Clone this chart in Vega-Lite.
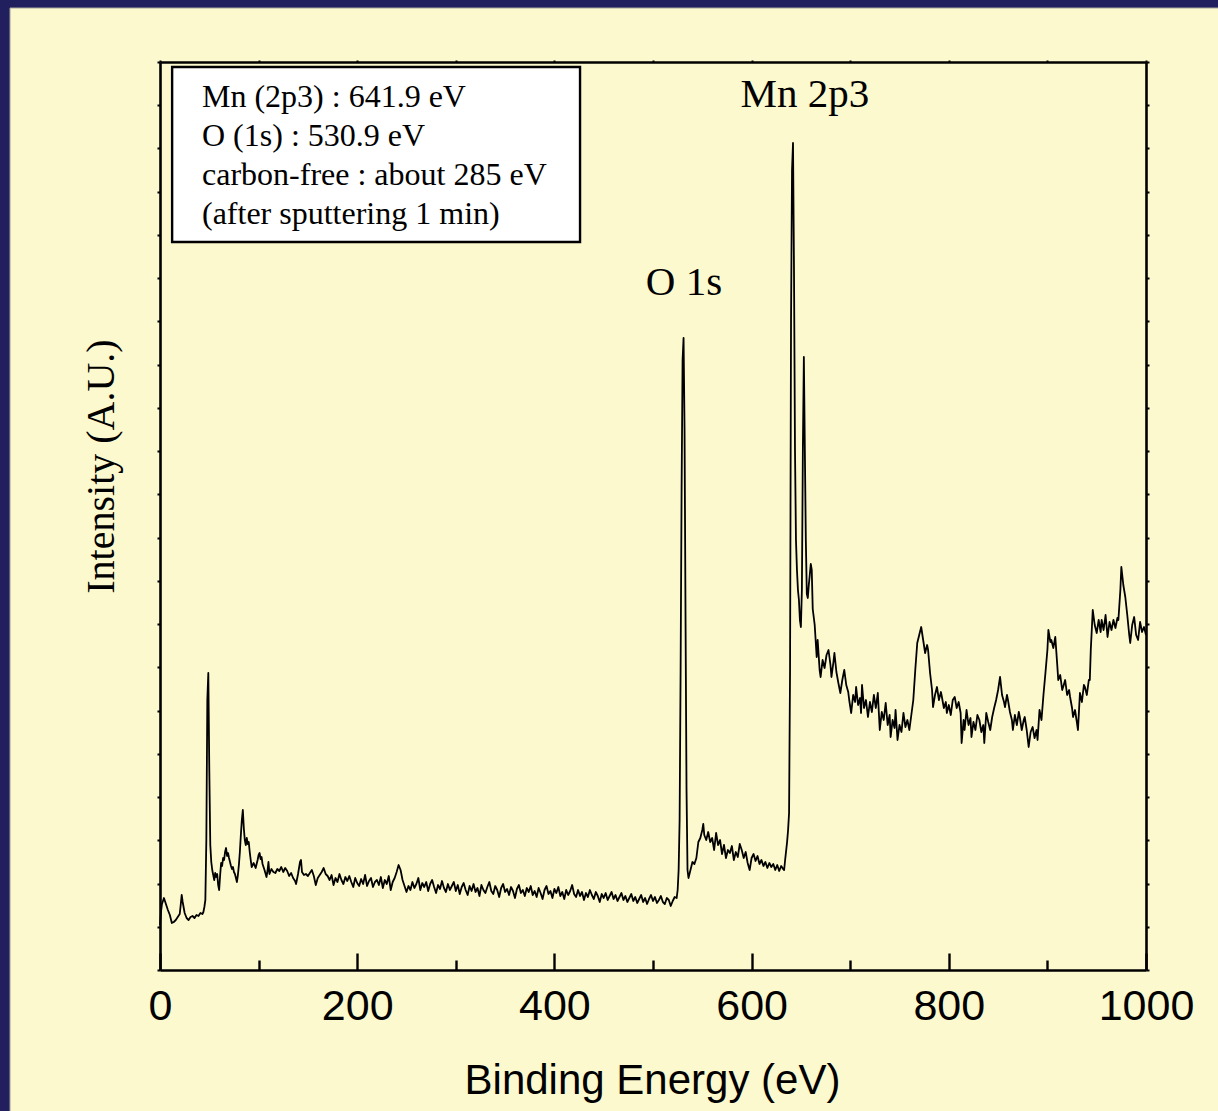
{
  "$schema": "https://vega.github.io/schema/vega-lite/v6.json",
  "width": 986,
  "height": 908,
  "autosize": {"type": "none"},
  "padding": {"left": 160, "top": 62, "right": 72, "bottom": 141},
  "background": "#221f5f",
  "config": {
    "view": {"stroke": null},
    "axis": {"zindex": 1, "grid": false, "domainColor": "#000000", "domainWidth": 2.6, "tickColor": "#000000", "tickWidth": 2.4, "labelColor": "#000000", "titleColor": "#000000"}
  },
  "resolve": {"axis": {"x": "independent", "y": "independent"}},
  "layer": [
    {
      "data": {"values": [{}]},
      "mark": {"type": "rect", "fill": "#fcf9ce", "stroke": "#a8a79c", "strokeWidth": 1},
      "encoding": {
        "x": {"datum": -152.1, "type": "quantitative", "axis": null},
        "x2": {"datum": 1090},
        "y": {"datum": 962, "type": "quantitative", "axis": null},
        "y2": {"datum": -160}
      }
    },
    {
      "data": {"values": [{}]},
      "mark": {"type": "rect", "fill": "#ffffff", "stroke": "#000000", "strokeWidth": 2.4},
      "encoding": {
        "x": {"datum": 12.3, "type": "quantitative", "axis": null},
        "x2": {"datum": 426},
        "y": {"datum": 903, "type": "quantitative", "axis": null},
        "y2": {"datum": 728}
      }
    },
    {
      "data": {"values": [
{"eV":0,"counts":45},{"eV":1,"counts":58},{"eV":2,"counts":66},{"eV":4,"counts":72},{"eV":6,"counts":66},{"eV":8,"counts":60},{"eV":10,"counts":55},{"eV":12,"counts":47},{"eV":14,"counts":48},{"eV":16,"counts":50},{"eV":18,"counts":53},{"eV":20,"counts":56},{"eV":21,"counts":65},{"eV":22,"counts":75},{"eV":23,"counts":68},{"eV":25,"counts":57},{"eV":27,"counts":52},{"eV":29,"counts":50},{"eV":31,"counts":53},{"eV":33,"counts":54},{"eV":35,"counts":52},{"eV":37,"counts":55},{"eV":39,"counts":54},{"eV":41,"counts":57},{"eV":43,"counts":56},{"eV":44,"counts":58},{"eV":45,"counts":63},{"eV":46,"counts":70},{"eV":47,"counts":130},{"eV":48,"counts":270},{"eV":49,"counts":297},{"eV":50,"counts":200},{"eV":51,"counts":125},{"eV":52,"counts":108},{"eV":53,"counts":100},{"eV":54,"counts":95},{"eV":55,"counts":90},{"eV":56,"counts":97},{"eV":57,"counts":93},{"eV":58,"counts":96},{"eV":59,"counts":85},{"eV":60,"counts":80},{"eV":61,"counts":95},{"eV":62,"counts":107},{"eV":63,"counts":104},{"eV":64,"counts":112},{"eV":65,"counts":110},{"eV":66,"counts":118},{"eV":67,"counts":122},{"eV":68,"counts":114},{"eV":69,"counts":117},{"eV":70,"counts":112},{"eV":71,"counts":108},{"eV":72,"counts":104},{"eV":73,"counts":101},{"eV":74,"counts":103},{"eV":75,"counts":98},{"eV":76,"counts":96},{"eV":77,"counts":92},{"eV":78,"counts":88},{"eV":79,"counts":95},{"eV":80,"counts":105},{"eV":81,"counts":118},{"eV":82,"counts":135},{"eV":83,"counts":150},{"eV":84,"counts":160},{"eV":85,"counts":142},{"eV":86,"counts":130},{"eV":87,"counts":125},{"eV":88,"counts":132},{"eV":89,"counts":126},{"eV":90,"counts":128},{"eV":91,"counts":118},{"eV":92,"counts":110},{"eV":93,"counts":103},{"eV":95,"counts":107},{"eV":97,"counts":102},{"eV":99,"counts":110},{"eV":100,"counts":115},{"eV":101,"counts":117},{"eV":102,"counts":111},{"eV":103,"counts":113},{"eV":104,"counts":106},{"eV":106,"counts":100},{"eV":108,"counts":93},{"eV":109,"counts":99},{"eV":110,"counts":108},{"eV":111,"counts":96},{"eV":113,"counts":101},{"eV":115,"counts":98},{"eV":117,"counts":97},{"eV":119,"counts":101},{"eV":121,"counts":99},{"eV":123,"counts":103},{"eV":125,"counts":98},{"eV":127,"counts":102},{"eV":129,"counts":99},{"eV":131,"counts":94},{"eV":133,"counts":97},{"eV":135,"counts":92},{"eV":137,"counts":89},{"eV":138,"counts":86},{"eV":140,"counts":96},{"eV":142,"counts":108},{"eV":143,"counts":110},{"eV":144,"counts":98},{"eV":146,"counts":95},{"eV":148,"counts":96},{"eV":150,"counts":94},{"eV":152,"counts":97},{"eV":154,"counts":100},{"eV":156,"counts":94},{"eV":158,"counts":85},{"eV":160,"counts":92},{"eV":162,"counts":95},{"eV":164,"counts":98},{"eV":166,"counts":102},{"eV":168,"counts":96},{"eV":170,"counts":94},{"eV":172,"counts":90},{"eV":174,"counts":95},{"eV":176,"counts":85},{"eV":178,"counts":92},{"eV":180,"counts":88},{"eV":182,"counts":96},{"eV":184,"counts":90},{"eV":186,"counts":86},{"eV":188,"counts":93},{"eV":190,"counts":89},{"eV":192,"counts":94},{"eV":194,"counts":88},{"eV":196,"counts":83},{"eV":198,"counts":92},{"eV":200,"counts":87},{"eV":202,"counts":84},{"eV":204,"counts":91},{"eV":206,"counts":86},{"eV":208,"counts":95},{"eV":210,"counts":84},{"eV":212,"counts":89},{"eV":214,"counts":92},{"eV":216,"counts":83},{"eV":218,"counts":88},{"eV":220,"counts":90},{"eV":222,"counts":85},{"eV":224,"counts":93},{"eV":226,"counts":82},{"eV":228,"counts":90},{"eV":230,"counts":86},{"eV":232,"counts":94},{"eV":234,"counts":80},{"eV":236,"counts":88},{"eV":238,"counts":92},{"eV":240,"counts":98},{"eV":242,"counts":105},{"eV":244,"counts":100},{"eV":246,"counts":90},{"eV":248,"counts":84},{"eV":250,"counts":78},{"eV":252,"counts":84},{"eV":254,"counts":80},{"eV":256,"counts":88},{"eV":258,"counts":82},{"eV":260,"counts":86},{"eV":262,"counts":92},{"eV":264,"counts":80},{"eV":266,"counts":87},{"eV":268,"counts":83},{"eV":270,"counts":88},{"eV":272,"counts":79},{"eV":274,"counts":86},{"eV":276,"counts":90},{"eV":278,"counts":83},{"eV":280,"counts":77},{"eV":282,"counts":85},{"eV":284,"counts":81},{"eV":286,"counts":89},{"eV":288,"counts":82},{"eV":290,"counts":78},{"eV":292,"counts":86},{"eV":294,"counts":80},{"eV":296,"counts":84},{"eV":298,"counts":88},{"eV":300,"counts":79},
{"eV":302,"counts":85},{"eV":304,"counts":76},{"eV":306,"counts":83},{"eV":308,"counts":87},{"eV":310,"counts":80},{"eV":312,"counts":75},{"eV":314,"counts":84},{"eV":316,"counts":79},{"eV":318,"counts":86},{"eV":320,"counts":78},{"eV":322,"counts":82},{"eV":324,"counts":74},{"eV":326,"counts":85},{"eV":328,"counts":80},{"eV":330,"counts":77},{"eV":332,"counts":83},{"eV":334,"counts":88},{"eV":336,"counts":79},{"eV":338,"counts":76},{"eV":340,"counts":84},{"eV":342,"counts":80},{"eV":344,"counts":73},{"eV":346,"counts":82},{"eV":348,"counts":86},{"eV":350,"counts":78},{"eV":352,"counts":81},{"eV":354,"counts":75},{"eV":356,"counts":83},{"eV":358,"counts":79},{"eV":360,"counts":72},{"eV":362,"counts":81},{"eV":364,"counts":85},{"eV":366,"counts":77},{"eV":368,"counts":80},{"eV":370,"counts":74},{"eV":372,"counts":82},{"eV":374,"counts":78},{"eV":376,"counts":84},{"eV":378,"counts":75},{"eV":380,"counts":79},{"eV":382,"counts":73},{"eV":384,"counts":82},{"eV":386,"counts":77},{"eV":388,"counts":71},{"eV":390,"counts":80},{"eV":392,"counts":84},{"eV":394,"counts":76},{"eV":396,"counts":79},{"eV":398,"counts":72},{"eV":400,"counts":81},{"eV":402,"counts":77},{"eV":404,"counts":83},{"eV":406,"counts":74},{"eV":408,"counts":78},{"eV":410,"counts":71},{"eV":412,"counts":80},{"eV":414,"counts":75},{"eV":416,"counts":79},{"eV":418,"counts":85},{"eV":420,"counts":76},{"eV":422,"counts":73},{"eV":424,"counts":80},{"eV":426,"counts":74},{"eV":428,"counts":78},{"eV":430,"counts":70},{"eV":432,"counts":77},{"eV":434,"counts":73},{"eV":436,"counts":80},{"eV":438,"counts":75},{"eV":440,"counts":71},{"eV":442,"counts":78},{"eV":444,"counts":74},{"eV":446,"counts":68},{"eV":448,"counts":76},{"eV":450,"counts":72},{"eV":452,"counts":77},{"eV":454,"counts":70},{"eV":456,"counts":74},{"eV":458,"counts":78},{"eV":460,"counts":71},{"eV":462,"counts":75},{"eV":464,"counts":69},{"eV":466,"counts":73},{"eV":468,"counts":77},{"eV":470,"counts":70},{"eV":472,"counts":74},{"eV":474,"counts":68},{"eV":476,"counts":72},{"eV":478,"counts":76},{"eV":480,"counts":69},{"eV":482,"counts":73},{"eV":484,"counts":67},{"eV":486,"counts":71},{"eV":488,"counts":75},{"eV":490,"counts":68},{"eV":492,"counts":72},{"eV":494,"counts":66},{"eV":496,"counts":71},{"eV":498,"counts":75},{"eV":500,"counts":69},{"eV":502,"counts":73},{"eV":504,"counts":67},{"eV":506,"counts":70},{"eV":508,"counts":74},{"eV":510,"counts":68},{"eV":512,"counts":66},{"eV":514,"counts":72},{"eV":516,"counts":70},{"eV":518,"counts":64},{"eV":520,"counts":69},{"eV":522,"counts":73},{"eV":524,"counts":72},{"eV":525,"counts":80},{"eV":526,"counts":100},{"eV":527,"counts":150},{"eV":528,"counts":300},{"eV":529,"counts":480},{"eV":530,"counts":610},{"eV":531,"counts":632},{"eV":532,"counts":540},{"eV":533,"counts":350},{"eV":534,"counts":180},{"eV":535,"counts":100},{"eV":536,"counts":92},{"eV":538,"counts":100},{"eV":540,"counts":108},{"eV":542,"counts":106},{"eV":544,"counts":112},{"eV":546,"counts":128},{"eV":548,"counts":132},{"eV":550,"counts":140},{"eV":551,"counts":146},{"eV":552,"counts":135},{"eV":554,"counts":130},{"eV":556,"counts":138},{"eV":558,"counts":128},{"eV":560,"counts":132},{"eV":562,"counts":120},{"eV":564,"counts":137},{"eV":566,"counts":125},{"eV":568,"counts":130},{"eV":570,"counts":116},{"eV":572,"counts":125},{"eV":574,"counts":112},{"eV":576,"counts":120},{"eV":578,"counts":117},{"eV":580,"counts":124},{"eV":582,"counts":110},{"eV":584,"counts":118},{"eV":586,"counts":113},{"eV":588,"counts":126},{"eV":590,"counts":120},{"eV":592,"counts":112},{"eV":594,"counts":118},{"eV":596,"counts":107},{"eV":598,"counts":100},{"eV":600,"counts":112},{"eV":602,"counts":116},{"eV":604,"counts":109},{"eV":606,"counts":114},{"eV":608,"counts":106},{"eV":610,"counts":110},{"eV":612,"counts":104},{"eV":614,"counts":108},{"eV":616,"counts":102},{"eV":618,"counts":107},{"eV":620,"counts":103},{"eV":622,"counts":106},{"eV":624,"counts":100},{"eV":626,"counts":105},{"eV":628,"counts":99},{"eV":630,"counts":104},{"eV":632,"counts":101},{"eV":633,"counts":100},{"eV":634,"counts":110},{"eV":636,"counts":128},{"eV":637,"counts":140},{"eV":638,"counts":157},{"eV":639,"counts":300},{"eV":640,"counts":650},{"eV":641,"counts":800},{"eV":642,"counts":827},{"eV":643,"counts":700},{"eV":644,"counts":520},{"eV":645,"counts":430},{"eV":646,"counts":400},{"eV":647,"counts":380},{"eV":648,"counts":370},{"eV":649,"counts":350},{"eV":650,"counts":343},{"eV":651,"counts":380},{"eV":652,"counts":520},{"eV":653,"counts":613},{"eV":654,"counts":520},{"eV":655,"counts":430},{"eV":656,"counts":376},{"eV":657,"counts":372},{"eV":658,"counts":385},{"eV":659,"counts":395},{"eV":660,"counts":406},{"eV":661,"counts":400},
{"eV":662,"counts":361},{"eV":664,"counts":345},{"eV":666,"counts":313},{"eV":667,"counts":330},{"eV":669,"counts":300},{"eV":670,"counts":293},{"eV":672,"counts":310},{"eV":674,"counts":302},{"eV":676,"counts":315},{"eV":678,"counts":320},{"eV":680,"counts":305},{"eV":681,"counts":293},{"eV":683,"counts":308},{"eV":684,"counts":317},{"eV":686,"counts":298},{"eV":688,"counts":287},{"eV":690,"counts":277},{"eV":692,"counts":290},{"eV":694,"counts":300},{"eV":696,"counts":285},{"eV":698,"counts":278},{"eV":699,"counts":270},{"eV":701,"counts":257},{"eV":703,"counts":275},{"eV":705,"counts":268},{"eV":706,"counts":283},{"eV":708,"counts":265},{"eV":710,"counts":272},{"eV":711,"counts":257},{"eV":712,"counts":285},{"eV":714,"counts":262},{"eV":716,"counts":270},{"eV":718,"counts":253},{"eV":720,"counts":268},{"eV":722,"counts":258},{"eV":724,"counts":275},{"eV":726,"counts":262},{"eV":728,"counts":277},{"eV":730,"counts":240},{"eV":732,"counts":258},{"eV":734,"counts":250},{"eV":736,"counts":267},{"eV":738,"counts":245},{"eV":740,"counts":255},{"eV":741,"counts":233},{"eV":743,"counts":250},{"eV":745,"counts":242},{"eV":746,"counts":260},{"eV":748,"counts":230},{"eV":750,"counts":245},{"eV":752,"counts":238},{"eV":754,"counts":257},{"eV":756,"counts":243},{"eV":758,"counts":250},{"eV":760,"counts":240},{"eV":762,"counts":255},{"eV":764,"counts":270},{"eV":766,"counts":300},{"eV":768,"counts":327},{"eV":770,"counts":335},{"eV":772,"counts":343},{"eV":774,"counts":330},{"eV":776,"counts":317},{"eV":778,"counts":325},{"eV":779,"counts":320},{"eV":781,"counts":297},{"eV":783,"counts":280},{"eV":784,"counts":263},{"eV":786,"counts":275},{"eV":788,"counts":283},{"eV":790,"counts":270},{"eV":792,"counts":278},{"eV":793,"counts":273},{"eV":795,"counts":262},{"eV":797,"counts":268},{"eV":798,"counts":257},{"eV":800,"counts":265},{"eV":802,"counts":255},{"eV":804,"counts":270},{"eV":806,"counts":273},{"eV":808,"counts":262},{"eV":810,"counts":268},{"eV":812,"counts":257},{"eV":813,"counts":227},{"eV":815,"counts":250},{"eV":816,"counts":240},{"eV":818,"counts":260},{"eV":820,"counts":245},{"eV":822,"counts":252},{"eV":823,"counts":233},{"eV":825,"counts":248},{"eV":827,"counts":240},{"eV":829,"counts":255},{"eV":831,"counts":250},{"eV":833,"counts":238},{"eV":835,"counts":245},{"eV":836,"counts":227},{"eV":838,"counts":257},{"eV":840,"counts":248},{"eV":842,"counts":240},{"eV":844,"counts":253},{"eV":846,"counts":262},{"eV":848,"counts":270},{"eV":850,"counts":280},{"eV":852,"counts":293},{"eV":854,"counts":275},{"eV":856,"counts":268},{"eV":857,"counts":263},{"eV":859,"counts":275},{"eV":860,"counts":270},{"eV":862,"counts":258},{"eV":864,"counts":250},{"eV":865,"counts":240},{"eV":867,"counts":255},{"eV":869,"counts":245},{"eV":871,"counts":258},{"eV":872,"counts":253},{"eV":874,"counts":240},{"eV":876,"counts":250},{"eV":877,"counts":253},{"eV":879,"counts":240},{"eV":881,"counts":223},{"eV":883,"counts":238},{"eV":885,"counts":243},{"eV":887,"counts":232},{"eV":889,"counts":240},{"eV":890,"counts":230},{"eV":892,"counts":260},{"eV":894,"counts":250},{"eV":896,"counts":275},{"eV":898,"counts":297},{"eV":900,"counts":320},{"eV":901,"counts":340},{"eV":903,"counts":328},{"eV":904,"counts":330},{"eV":906,"counts":322},{"eV":908,"counts":333},{"eV":910,"counts":305},{"eV":911,"counts":290},{"eV":913,"counts":295},{"eV":915,"counts":280},{"eV":916,"counts":283},{"eV":918,"counts":290},{"eV":920,"counts":275},{"eV":922,"counts":280},{"eV":923,"counts":273},{"eV":925,"counts":262},{"eV":926,"counts":253},{"eV":928,"counts":260},{"eV":930,"counts":247},{"eV":931,"counts":240},{"eV":933,"counts":277},{"eV":935,"counts":268},{"eV":937,"counts":285},{"eV":938,"counts":283},{"eV":940,"counts":275},{"eV":942,"counts":290},{"eV":943,"counts":290},{"eV":944,"counts":320},{"eV":945,"counts":340},{"eV":946,"counts":360},{"eV":948,"counts":345},{"eV":950,"counts":337},{"eV":952,"counts":350},{"eV":954,"counts":338},{"eV":955,"counts":350},{"eV":957,"counts":340},{"eV":959,"counts":355},{"eV":961,"counts":333},{"eV":963,"counts":348},{"eV":965,"counts":340},{"eV":967,"counts":350},{"eV":969,"counts":342},{"eV":971,"counts":352},{"eV":972,"counts":350},{"eV":974,"counts":380},{"eV":975,"counts":403},{"eV":977,"counts":385},{"eV":979,"counts":373},{"eV":981,"counts":355},{"eV":983,"counts":335},{"eV":984,"counts":327},{"eV":986,"counts":345},{"eV":988,"counts":353},{"eV":990,"counts":335},{"eV":992,"counts":330},{"eV":994,"counts":348},{"eV":996,"counts":338},{"eV":998,"counts":343},{"eV":1000,"counts":335}
      ]},
      "mark": {"type": "line", "color": "#000000", "strokeWidth": 1.8, "strokeJoin": "round"},
      "encoding": {
        "x": {
          "field": "eV", "type": "quantitative",
          "scale": {"domain": [0, 1000], "nice": false, "zero": false},
          "axis": {
            "orient": "bottom", "zindex": 1,
            "values": [0, 100, 200, 300, 400, 500, 600, 700, 800, 900, 1000],
            "tickSize": {"condition": {"test": "datum.value % 200 === 0", "value": -17}, "value": -10},
            "labelExpr": "datum.value % 200 === 0 ? '' + datum.value : ''",
            "labelFont": "Liberation Sans", "labelFontSize": 43, "labelBaseline": "alphabetic", "labelPadding": 66, "labelFlush": false, "labelOverlap": false,
            "title": "Binding Energy (eV)", "titleFont": "Liberation Sans", "titleFontSize": 42, "titleFontWeight": "normal",
            "titleX": 492, "titleY": 123, "titleAlign": "center", "titleBaseline": "alphabetic", "titleAnchor": null
          }
        },
        "y": {
          "field": "counts", "type": "quantitative",
          "scale": {"domain": [0, 908], "nice": false, "zero": false},
          "axis": {
            "orient": "left", "zindex": 1,
            "values": [0, 43.24, 86.48, 129.71, 172.95, 216.19, 259.43, 302.67, 345.9, 389.14, 432.38, 475.62, 518.86, 562.1, 605.33, 648.57, 691.81, 735.05, 778.29, 821.52, 864.76, 908],
            "labels": false, "tickSize": 3, "tickWidth": 2,
            "title": "Intensity (A.U.)", "titleFont": "Liberation Serif", "titleFontSize": 40, "titleFontWeight": "normal",
            "titleAngle": -90, "titleX": -47, "titleY": 404, "titleAlign": "center", "titleBaseline": "alphabetic", "titleAnchor": null
          }
        }
      }
    },
    {
      "data": {"values": [{}]},
      "mark": {"type": "text", "font": "Liberation Serif", "fontSize": 41, "align": "center", "baseline": "alphabetic", "color": "#000000"},
      "encoding": {
        "text": {"value": "Mn 2p3"},
        "x": {"datum": 654, "type": "quantitative",
          "axis": {"orient": "top", "zindex": 1, "values": [0, 100, 200, 300, 400, 500, 600, 700, 800, 900, 1000], "labels": false, "tickSize": 2, "tickWidth": 2, "title": null}},
        "y": {"datum": 863, "type": "quantitative",
          "axis": {"orient": "right", "zindex": 1, "values": [0, 43.24, 86.48, 129.71, 172.95, 216.19, 259.43, 302.67, 345.9, 389.14, 432.38, 475.62, 518.86, 562.1, 605.33, 648.57, 691.81, 735.05, 778.29, 821.52, 864.76, 908], "labels": false, "tickSize": 3, "tickWidth": 2, "title": null}}
      }
    },
    {
      "data": {"values": [{}]},
      "mark": {"type": "text", "font": "Liberation Serif", "fontSize": 41, "align": "center", "baseline": "alphabetic", "color": "#000000"},
      "encoding": {
        "text": {"value": "O 1s"},
        "x": {"datum": 531.4, "type": "quantitative", "axis": null},
        "y": {"datum": 675, "type": "quantitative", "axis": null}
      }
    },
    {
      "data": {"values": [{}]},
      "mark": {"type": "text", "font": "Liberation Serif", "fontSize": 32, "align": "left", "baseline": "alphabetic", "lineHeight": 39, "color": "#000000"},
      "encoding": {
        "text": {"value": ["Mn (2p3) : 641.9 eV", "O (1s) : 530.9 eV", "carbon-free : about 285 eV", "(after sputtering 1 min)"]},
        "x": {"datum": 42.6, "type": "quantitative", "axis": null},
        "y": {"datum": 863, "type": "quantitative", "axis": null}
      }
    }
  ]
}
